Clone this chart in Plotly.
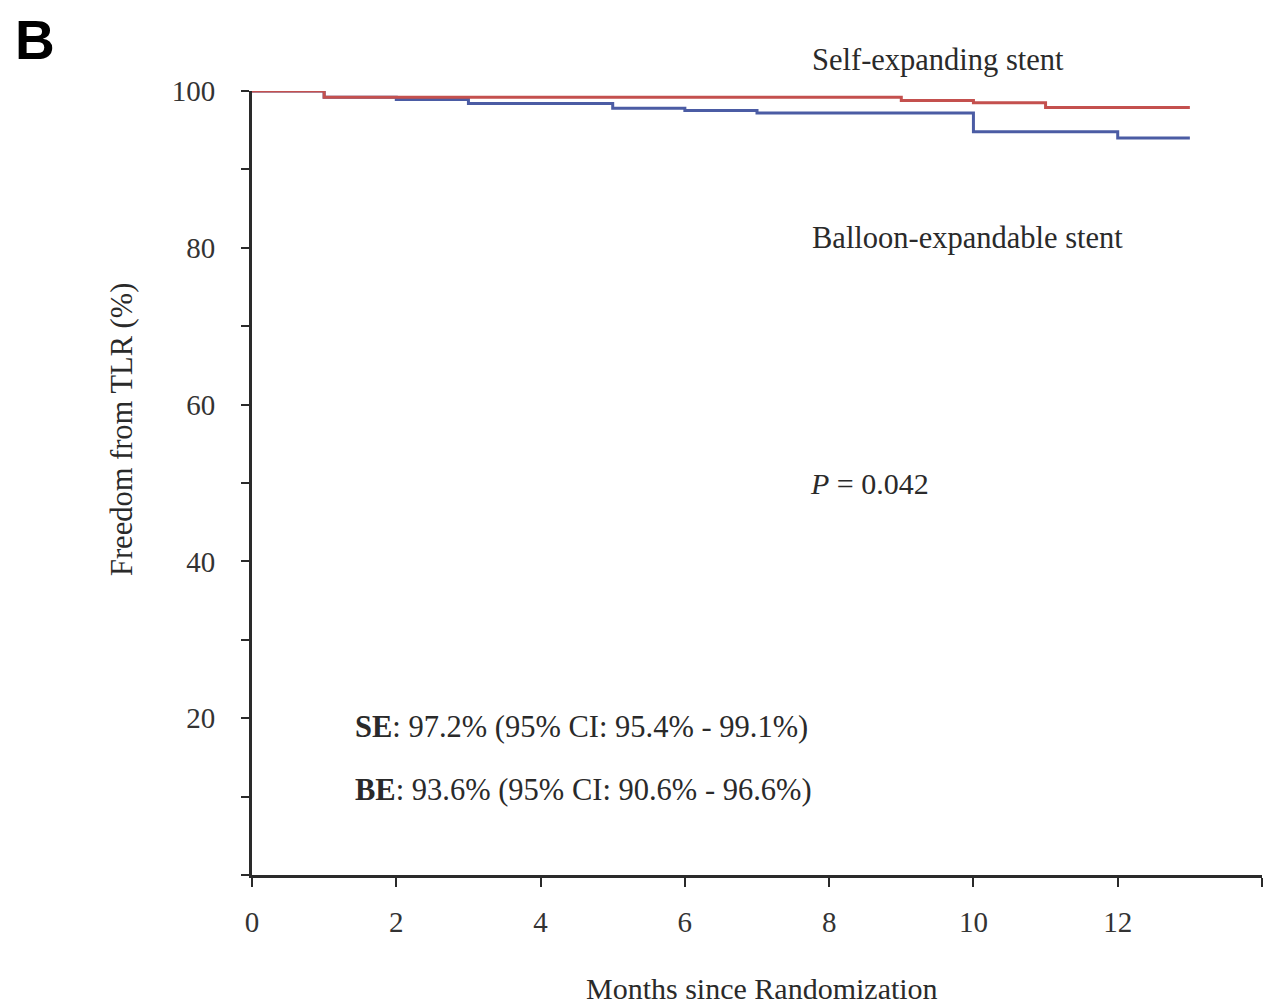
import plotly.graph_objects as go

# Kaplan-Meier step data (months, freedom from TLR %)
se_months = [0, 1, 9, 10, 11, 13]
se_values = [100, 99.2, 98.8, 98.5, 97.9, 97.9]

be_months = [0, 1, 2, 3, 5, 6, 7, 10, 12, 13]
be_values = [100, 99.2, 98.9, 98.4, 97.8, 97.5, 97.2, 94.8, 94.0, 94.0]

x_tickvals = [0, 2, 4, 6, 8, 10, 12, 14]
x_ticktext = ["0", "2", "4", "6", "8", "10", "12", ""]
y_tickvals = [0, 10, 20, 30, 40, 50, 60, 70, 80, 90, 100]
y_ticktext = ["", "", "20", "", "40", "", "60", "", "80", "", "100"]

SERIF = "Liberation Serif, Times New Roman, serif"
AXIS_COLOR = "#2a2a2a"
TXT = "#2a2a2a"

fig = go.Figure()
fig.add_trace(go.Scatter(x=be_months, y=be_values, mode="lines", line_shape="hv",
                         line=dict(color="#4b5ca4", width=3), name="Balloon-expandable stent",
                         showlegend=False, cliponaxis=False))
fig.add_trace(go.Scatter(x=se_months, y=se_values, mode="lines", line_shape="hv",
                         line=dict(color="#c4504e", width=3), name="Self-expanding stent",
                         showlegend=False, cliponaxis=False))

annos = [
    dict(x=0.5525, y=1.0395, xref="paper", yref="paper", text="Self-expanding stent", xanchor="left",
         yanchor="middle", font=dict(size=30.5, color=TXT, family=SERIF), showarrow=False),
    dict(x=7.73, y=81.2, xref="x", yref="y", text="Balloon-expandable stent", xanchor="left",
         yanchor="middle", font=dict(size=30.5, color=TXT, family=SERIF), showarrow=False),
    dict(x=7.7, y=50.0, xref="x", yref="y", text="<i>P</i> = 0.042", xanchor="left",
         yanchor="middle", font=dict(size=30, color=TXT, family=SERIF), showarrow=False),
    dict(x=1.40, y=18.9, xref="x", yref="y",
         text="<b>SE</b>: 97.2% (95% CI: 95.4% - 99.1%)", xanchor="left",
         yanchor="middle", font=dict(size=30.5, color=TXT, family=SERIF), showarrow=False),
    dict(x=1.40, y=10.8, xref="x", yref="y",
         text="<b>BE</b>: 93.6% (95% CI: 90.6% - 96.6%)", xanchor="left",
         yanchor="middle", font=dict(size=30.5, color=TXT, family=SERIF), showarrow=False),
    dict(x=-0.1287, y=0.5676, xref="paper", yref="paper", text="Freedom from TLR (%)",
         textangle=-90, xanchor="center", yanchor="middle",
         font=dict(size=30.5, color=TXT, family=SERIF), showarrow=False),
    dict(x=0.5045, y=-0.145, xref="paper", yref="paper", text="Months since Randomization",
         xanchor="center", yanchor="middle",
         font=dict(size=30, color=TXT, family=SERIF), showarrow=False),
    dict(x=-0.237, y=1.065, xref="paper", yref="paper", text="<b>B</b>",
         xanchor="left", yanchor="middle",
         font=dict(size=55, color="#000000", family="Liberation Sans, Arial, sans-serif"),
         showarrow=False),
]

fig.update_layout(
    width=1285, height=1005,
    margin=dict(l=244, r=31, t=83, b=138),
    paper_bgcolor="white", plot_bgcolor="white",
    annotations=annos,
    xaxis=dict(range=[0, 14], tickvals=x_tickvals, ticktext=x_ticktext, showgrid=False,
               zeroline=False, showline=True, linecolor=AXIS_COLOR, linewidth=3,
               ticks="outside", ticklen=9, tickwidth=2, tickcolor=AXIS_COLOR,
               ticklabelstandoff=10,
               tickfont=dict(family=SERIF, size=29, color="#333333")),
    yaxis=dict(range=[0, 100], tickvals=y_tickvals, ticktext=y_ticktext, showgrid=False,
               zeroline=False, showline=True, linecolor=AXIS_COLOR, linewidth=3,
               ticks="outside", ticklen=8, tickwidth=2, tickcolor=AXIS_COLOR,
               ticklabelstandoff=20,
               tickfont=dict(family=SERIF, size=29, color="#333333")),
)

fig.write_html("out.html")
